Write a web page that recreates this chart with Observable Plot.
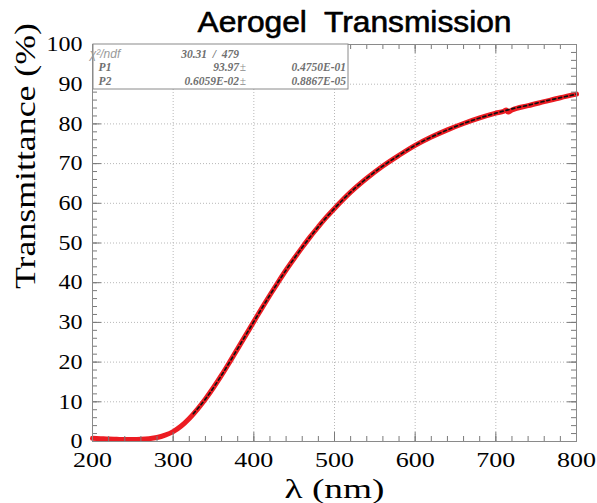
<!DOCTYPE html>
<html><head><meta charset="utf-8">
<script src="https://cdn.jsdelivr.net/npm/d3@7"></script>
<script src="https://cdn.jsdelivr.net/npm/@observablehq/plot@0.6"></script>
<style>
body{margin:0;background:#fff}
#chart{width:597px;height:503px}
</style>
</head><body><div id="chart"></div>
<script>
// ---- data ----
const title = "Aerogel  Transmission";
const xTitle = "λ (nm)";
const yTitle = "Transmittance (%)";

const wavelength = [200,210,220,230,240,250,260,270,280,290,300,310,320,330,340,350,360,370,380,390,400,410,420,430,440,450,460,470,480,490,500,520,540,560,580,600,620,640,660,680,700,710,713,715,720,740,760,780,800];
const transmittance = [0.8,0.7,0.6,0.55,0.5,0.5,0.55,0.7,1.0,1.6,2.5,3.9,5.8,8.1,10.7,13.6,16.7,20.0,23.4,26.8,30.2,33.6,36.9,40.1,43.2,46.1,48.9,51.6,54.1,56.5,58.7,62.8,66.3,69.4,72.1,74.6,76.7,78.5,80.1,81.5,82.7,83.2,83.5,83.0,83.5,84.6,85.6,86.6,87.5];

const fitWavelength = [325,340,360,380,400,420,440,460,480,500,520,540,560,580,600,620,640,660,680,700,720,740,760,780,800];
const fitTransmittance = [7.0,10.7,16.7,23.4,30.2,36.9,43.2,48.9,54.1,58.7,62.8,66.3,69.4,72.1,74.6,76.7,78.5,80.1,81.5,82.7,83.8,84.7,85.7,86.6,87.5];

const xTicks = [200,300,400,500,600,700,800];
const yTicks = [0,10,20,30,40,50,60,70,80,90,100];
const xMinorTicks = [200,220,240,260,280,300,320,340,360,380,400,420,440,460,480,500,520,540,560,580,600,620,640,660,680,700,720,740,760,780,800];
const yMinorTicks = [0,2,4,6,8,10,12,14,16,18,20,22,24,26,28,30,32,34,36,38,40,42,44,46,48,50,52,54,56,58,60,62,64,66,68,70,72,74,76,78,80,82,84,86,88,90,92,94,96,98,100];

const statLabels = ["χ²/ndf", "P1", "P2"];
const statValues = ["30.31  /  479", "93.97", "0.6059E-02"];
const statPm = ["", "±", "±"];
const statErrors = ["", "0.4750E-01", "0.8867E-05"];

// ---- layout ----
const W = 597, H = 503;
const mL = 92, mR = 21, mT = 44, mB = 62;
const pw = W - mL - mR, ph = H - mT - mB;

const measured = wavelength.map((x, i) => ({x, y: transmittance[i]}));
const fit = fitWavelength.map((x, i) => ({x, y: fitTransmittance[i]}));

const tickColor = "#7a7a7a";
const serif = "'Liberation Serif', 'Times New Roman', serif";

const plot = Plot.plot({
  width: W, height: H,
  marginLeft: mL, marginRight: mR, marginTop: mT, marginBottom: mB,
  style: {fontFamily: serif, background: "white", color: "black", overflow: "visible"},
  x: {domain: [200, 800]},
  y: {domain: [0, 100]},
  marks: [
    Plot.gridX(xTicks, {stroke: "#b8b8b8", strokeOpacity: 1, strokeDasharray: "1,2"}),
    Plot.gridY(yTicks, {stroke: "#b8b8b8", strokeOpacity: 1, strokeDasharray: "1,2"}),
    Plot.line(measured, {x: "x", y: "y", stroke: "#ec1c22", strokeWidth: 5, curve: "monotone-x"}),
    Plot.line(fit, {x: "x", y: "y", stroke: "#111", strokeWidth: 1.7, strokeDasharray: "3,3", curve: "monotone-x"}),
    // inward ticks on all four sides
    Plot.tickX(xMinorTicks, {x: d => d, insetTop: ph - 5, stroke: tickColor}),
    Plot.tickX(xTicks, {x: d => d, insetTop: ph - 9, stroke: tickColor}),
    Plot.tickX(xMinorTicks, {x: d => d, insetBottom: ph - 5, stroke: tickColor}),
    Plot.tickX(xTicks, {x: d => d, insetBottom: ph - 9, stroke: tickColor}),
    Plot.tickY(yMinorTicks, {y: d => d, insetRight: pw - 5, stroke: tickColor}),
    Plot.tickY(yTicks, {y: d => d, insetRight: pw - 9, stroke: tickColor}),
    Plot.tickY(yMinorTicks, {y: d => d, insetLeft: pw - 5, stroke: tickColor}),
    Plot.tickY(yTicks, {y: d => d, insetLeft: pw - 9, stroke: tickColor}),
    Plot.frame({stroke: "#8a8a8a"}),
    Plot.axisX(xTicks, {anchor: "bottom", tickSize: 0, tickPadding: 11, fontSize: 21, label: null, fill: "black"}),
    Plot.axisY(yTicks, {anchor: "left", tickSize: 0, tickPadding: 10, fontSize: 21, label: null, fill: "black"}),
    Plot.text([xTitle], {frameAnchor: "bottom", dy: 48, fontSize: 28, lineAnchor: "middle", fill: "black"}),
    Plot.text([yTitle], {frameAnchor: "left", dx: -67, dy: 46, rotate: -90, fontSize: 30, lineAnchor: "middle", fill: "black"}),
    Plot.text([title], {frameAnchor: "top", dx: 20, dy: -22, fontSize: 29, lineAnchor: "middle", fill: "black",
      stroke: "black", strokeWidth: 0.6, fontFamily: "'Liberation Sans', Arial, sans-serif"})
  ]
});

const svg = d3.select(plot);
// stretch texts to match the reference's proportions
svg.selectAll("text").each(function() {
  const t = this.textContent;
  const el = d3.select(this);
  if (t === yTitle) el.attr("textLength", 266).attr("lengthAdjust", "spacingAndGlyphs");
  else if (t === xTitle) el.attr("textLength", 100).attr("lengthAdjust", "spacingAndGlyphs");
  else if (t === title) el.attr("textLength", 314).attr("lengthAdjust", "spacingAndGlyphs");
});
svg.selectAll('[aria-label="x-axis tick label"] text').each(function() {
  d3.select(this).attr("textLength", 13 * this.textContent.length).attr("lengthAdjust", "spacingAndGlyphs");
});
svg.selectAll('[aria-label="y-axis tick label"] text').each(function() {
  d3.select(this).attr("textLength", 12 * this.textContent.length).attr("lengthAdjust", "spacingAndGlyphs");
});

// statistics box (top-left corner of the frame)
const box = svg.append("g").attr("transform", `translate(${mL + 1},${mT})`);
box.append("rect").attr("width", 255).attr("height", 45)
  .attr("fill", "white").attr("stroke", "#8a8a8a").attr("stroke-width", 1);
statLabels.forEach((lab, i) => {
  const yy = 13.5 + i * 13.5;
  box.append("text").attr("x", 12).attr("y", yy).text(lab)
    .attr("font-family", i === 0 ? "'Liberation Sans', sans-serif" : serif)
    .attr("font-style", "italic").attr("font-size", i === 0 ? 12 : 11.5)
    .attr("fill", i === 0 ? "#9a9a9a" : "#707070").attr("font-weight", i === 0 ? "normal" : "bold");
  box.append("text").attr("x", 146).attr("y", yy).attr("text-anchor", "end").text(statValues[i])
    .attr("font-family", serif).attr("font-style", "italic").attr("font-weight", "bold")
    .attr("font-size", 11.5).attr("fill", "#707070").style("white-space", "pre");
  box.append("text").attr("x", 150).attr("y", yy).text(statPm[i])
    .attr("font-family", serif).attr("font-size", 11.5).attr("fill", "#8a8a8a");
  box.append("text").attr("x", 253).attr("y", yy).attr("text-anchor", "end").text(statErrors[i])
    .attr("font-family", serif).attr("font-style", "italic").attr("font-weight", "bold")
    .attr("font-size", 11.5).attr("fill", "#707070");
});
document.getElementById("chart").appendChild(plot);
</script>
</body></html>
